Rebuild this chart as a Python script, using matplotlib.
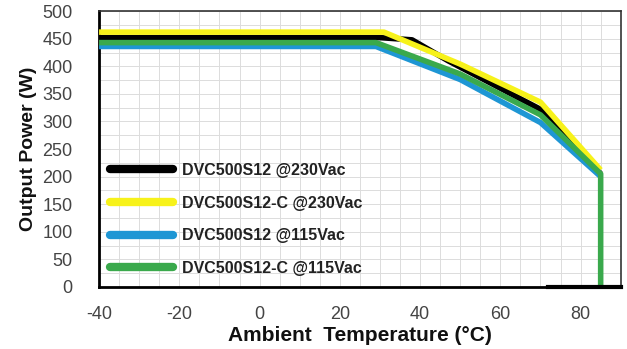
import matplotlib
matplotlib.use("Agg")
import matplotlib.pyplot as plt
from matplotlib.ticker import MultipleLocator

plt.rcParams['font.family'] = ['Liberation Sans', 'DejaVu Sans']
plt.rcParams['axes.unicode_minus'] = False

# derating curves
labels = ["DVC500S12 @230Vac", "DVC500S12-C @230Vac",
          "DVC500S12 @115Vac", "DVC500S12-C @115Vac"]
colors = ["#000000", "#f7f21a", "#1e96d4", "#3aa94c"]

temp_black = [-40, 30, 38, 47, 70, 85]
power_black = [452, 452, 448, 410, 322, 205]

temp_yellow = [-40, 31, 50, 70, 85]
power_yellow = [462, 462, 404, 335, 212]

temp_blue = [-40, 29, 50, 70, 85]
power_blue = [436, 436, 376, 298, 200]

temp_green = [-40, 29, 50, 70, 85, 85]
power_green = [443, 443, 386, 312, 205, 0]

# black stub along the bottom edge
temp_stub = [72, 90]
power_stub = [0, 0]

fig = plt.figure(figsize=(6.27, 3.49), dpi=100)
ax = fig.add_axes([0.158, 0.178, 0.832, 0.79])

ax.plot(temp_black, power_black, color=colors[0], lw=4, label=labels[0],
        solid_capstyle='butt', zorder=2)
ax.plot(temp_yellow, power_yellow, color=colors[1], lw=4, label=labels[1],
        solid_capstyle='butt', zorder=3)
ax.plot(temp_blue, power_blue, color=colors[2], lw=4, label=labels[2],
        solid_capstyle='butt', zorder=4)
ax.plot(temp_green, power_green, color=colors[3], lw=4, label=labels[3],
        solid_capstyle='butt', zorder=5)
ax.plot(temp_stub, power_stub, color='black', lw=3, clip_on=False, zorder=6)

ax.set_xlim(-40, 90)
ax.set_ylim(0, 500)
ax.xaxis.set_major_locator(MultipleLocator(20))
ax.xaxis.set_minor_locator(MultipleLocator(5))
ax.yaxis.set_major_locator(MultipleLocator(50))
ax.yaxis.set_minor_locator(MultipleLocator(25))
ax.grid(which='both', color='#dcdcdc', lw=0.7)
ax.set_axisbelow(True)
ax.tick_params(which='both', length=0, labelsize=13, colors='#444444')
ax.tick_params(axis='x', pad=14)
ax.tick_params(axis='y', pad=19)
ax.set_xticks([-40, -20, 0, 20, 40, 60, 80])

for side in ['left', 'bottom']:
    ax.spines[side].set_linewidth(2)
    ax.spines[side].set_color('black')
for side in ['top', 'right']:
    ax.spines[side].set_linewidth(1.2)
    ax.spines[side].set_color('#333333')

ax.set_xlabel("Ambient  Temperature (\u00b0C)", fontsize=15, fontweight='bold',
              labelpad=2, color='#111111')
ax.set_ylabel("Output Power (W)", fontsize=14, fontweight='bold', labelpad=4,
              color='#111111')

leg = ax.legend(loc='lower left', frameon=False, fontsize=11.5,
                handlelength=3.9, labelspacing=1.1, handletextpad=0.6,
                borderaxespad=0.3, bbox_to_anchor=(0.0, 0.0))
for line in leg.get_lines():
    line.set_linewidth(6)
    line.set_solid_capstyle('round')
for t in leg.get_texts():
    t.set_fontweight('bold')
    t.set_color('#222222')

fig.savefig("out.png", dpi=100)
